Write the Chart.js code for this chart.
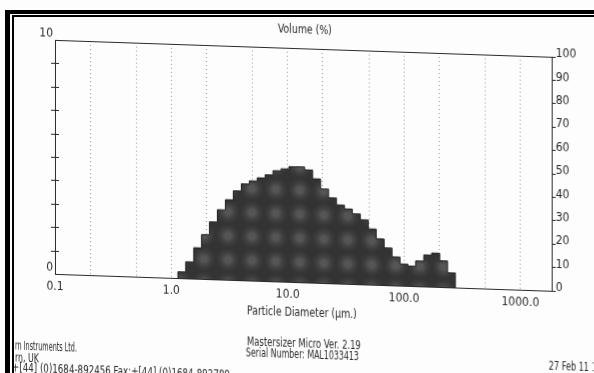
<!DOCTYPE html>
<html>
<head>
<meta charset="utf-8">
<script src="https://cdn.jsdelivr.net/npm/chart.js@4.4.1/dist/chart.umd.min.js"></script>
<style>
  html, body { margin: 0; padding: 0; background: #fff; overflow: hidden; }
  #page { position: relative; width: 594px; height: 373px; overflow: hidden; background: #fdfdfd; }
  /* the printout was scanned slightly sheared */
  #scan { position: absolute; left: 0; top: 0; width: 594px; height: 373px; transform: skewY(1.95deg); transform-origin: 0 0; }
  #frameOuter { position: absolute; left: 5px; top: 10px; right: -20px; bottom: -20px; border-left: 5px solid #000; border-top: 4px solid #000; }
  #frameInner { position: absolute; left: 12px; top: 15px; right: -20px; bottom: -20px; border-left: 2px solid #000; border-top: 2px solid #000; }
</style>
</head>
<body>
<div id="page">
  <div id="scan"><canvas id="psdChart" width="594" height="373"></canvas></div>
  <div id="frameOuter"></div>
  <div id="frameInner"></div>
</div>
<script>
// lower/upper edges of the size bands (um)
const binEdges = [1.14, 1.33, 1.56, 1.82, 2.13, 2.49, 2.92, 3.41, 4.00, 4.68, 5.47, 6.40,
  7.48, 8.76, 10.25, 12.0, 14.0, 16.4, 19.2, 22.5, 26.3, 30.8, 36.0, 42.2, 49.3, 57.7,
  67.5, 78.9, 92.4, 108, 126, 148, 173, 203, 237, 277];
// volume % in each band
const volumePct = [0.27, 0.71, 1.32, 1.89, 2.45, 2.98, 3.42, 3.81, 4.12, 4.26, 4.40, 4.54,
  4.73, 4.82, 4.92, 4.93, 4.81, 4.44, 4.02, 3.65, 3.36, 3.20, 3.00, 2.76, 2.38, 1.97,
  1.59, 1.22, 0.93, 0.85, 1.08, 1.35, 1.44, 1.12, 0.62];
const xGridValues = [0.1, 0.2, 0.5, 1, 2, 5, 10, 20, 50, 100, 200, 500, 1000];
const xLabelValues = [0.1, 1, 10, 100, 1000];
const leftLabelValues = [0, 10];

const FONT = "'DejaVu Sans Condensed', 'Liberation Sans', Arial, sans-serif";
Chart.defaults.font.family = FONT;
Chart.defaults.color = '#2a2a2a';

// stepped outline of the histogram
const histPoints = [{ x: binEdges[0], y: 0 }];
volumePct.forEach((v, i) => histPoints.push({ x: binEdges[i], y: v }));
histPoints.push({ x: binEdges[binEdges.length - 1], y: volumePct[volumePct.length - 1] });
histPoints.push({ x: binEdges[binEdges.length - 1], y: 0 });

// mottled dark fill like the printed bars
function mottledFill() {
    const c = document.createElement('canvas');
    c.width = c.height = 24;
    const g = c.getContext('2d');
    g.fillStyle = '#333333';
    g.fillRect(0, 0, 24, 24);
    const rg = g.createRadialGradient(12, 12, 3, 12, 12, 14);
    rg.addColorStop(0, '#555555');
    rg.addColorStop(1, 'rgba(51,51,51,0)');
    g.fillStyle = rg;
    g.fillRect(0, 0, 24, 24);
    return g.createPattern(c, 'repeat');
}

// text squeezed to the width it has on the printout
function fitText(ctx, text, x, y, size, width, align) {
    ctx.font = size + 'px ' + FONT;
    const w = ctx.measureText(text).width;
    const sx = width / w;
    const left = align === 'center' ? x - width / 2 : x;
    ctx.save();
    ctx.translate(left, y);
    ctx.scale(sx, 1);
    ctx.textAlign = 'left';
    ctx.fillText(text, 0, 0);
    ctx.restore();
}

const scanDecor = {
    id: 'scanDecor',
    afterDraw(chart) {
        const { ctx, chartArea: a, scales } = chart;
        ctx.save();
        ctx.strokeStyle = '#2a2a2a';
        ctx.lineWidth = 1;
        ctx.beginPath();
        ctx.moveTo(a.left, a.top + 0.5);
        ctx.lineTo(a.right, a.top + 0.5);
        // little crosses on the left axis
        scales.y.ticks.forEach(t => {
            if (t.value <= 0 || t.value >= 10) return;
            const y = Math.round(scales.y.getPixelForValue(t.value)) + 0.5;
            ctx.moveTo(a.left - 4, y);
            ctx.lineTo(a.left + 4, y);
        });
        ctx.stroke();

        ctx.fillStyle = '#2a2a2a';
        ctx.textBaseline = 'middle';
        fitText(ctx, 'Volume (%)', 305, 20, 13, 54, 'center');
        fitText(ctx, 'Particle Diameter (µm.)', 302, 303, 13, 110, 'center');
        fitText(ctx, 'Mastersizer Micro Ver. 2.19', 247, 334, 12, 114);
        fitText(ctx, 'Serial Number: MAL1033413', 246, 344.5, 12, 113);
        fitText(ctx, 'rn Instruments Ltd.', 15, 346, 12, 62);
        fitText(ctx, 'rn, UK', 15, 358, 12, 24);
        fitText(ctx, '+[44] (0)1684-892456 Fax:+[44] (0)1684-892789', 12, 368, 12, 218);
        fitText(ctx, '27 Feb 11 12:', 549, 348, 12, 56);
        ctx.restore();
    }
};

new Chart(document.getElementById('psdChart'), {
    type: 'line',
    data: {
        datasets: [{
            label: 'Volume (%)',
            data: histPoints,
            stepped: true,
            fill: 'origin',
            backgroundColor: mottledFill(),
            borderColor: '#222222',
            borderWidth: 1,
            pointRadius: 0,
            yAxisID: 'y'
        }]
    },
    options: {
        responsive: false,
        animation: false,
        layout: { padding: { top: 38, left: 0, right: 0, bottom: 0 } },
        plugins: { legend: { display: false }, tooltip: { enabled: false } },
        scales: {
            x: {
                type: 'logarithmic',
                min: 0.1,
                max: 1860,
                afterFit: s => { s.height = 101; },
                afterBuildTicks: s => { s.ticks = xGridValues.map(v => ({ value: v })); },
                ticks: {
                    autoSkip: false,
                    maxRotation: 0,
                    padding: 6,
                    font: { size: 12 },
                    callback: v => xLabelValues.includes(v) ? v.toFixed(1) : ''
                },
                grid: { color: '#9a9a9a', drawTicks: false },
                border: { display: true, color: '#2a2a2a', dash: [1, 3] }
            },
            y: {
                position: 'left',
                min: 0,
                max: 10,
                afterFit: s => { s.width = 55; },
                ticks: {
                    stepSize: 1,
                    padding: 2,
                    labelOffset: -6,
                    font: { size: 12 },
                    callback: v => leftLabelValues.includes(v) ? String(v) : ''
                },
                grid: { drawOnChartArea: false, drawTicks: false },
                border: { display: true, color: '#2a2a2a' }
            },
            y2: {
                position: 'right',
                min: 0,
                max: 100,
                afterFit: s => { s.width = 42; },
                ticks: { stepSize: 10, padding: 0, labelOffset: -3, font: { size: 12 } },
                grid: { drawOnChartArea: false, drawTicks: true, tickLength: 4, tickColor: '#2a2a2a' },
                border: { display: true, color: '#2a2a2a' }
            }
        }
    },
    plugins: [scanDecor]
});
</script>
</body>
</html>
